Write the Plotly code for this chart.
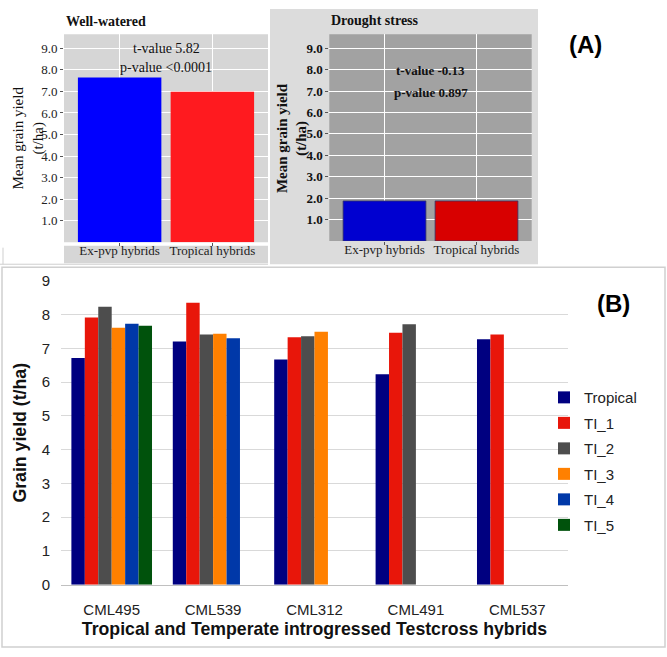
import plotly.graph_objects as go

W, H = 667, 657

def px(x):
    return x / W

def py(y):
    return 1 - y / H

# ---------------- Data ----------------
a_categories = ["Ex-pvp hybrids", "Tropical hybrids"]
ww_yield = [7.65, 6.98]
ds_yield = [1.87, 1.87]
ww_stats = ["t-value 5.82", "p-value <0.0001"]
ds_stats = ["t-value -0.13", "p-value 0.897"]
a_ticks = [1, 2, 3, 4, 5, 6, 7, 8, 9]

b_categories = ["CML495", "CML539", "CML312", "CML491", "CML537"]
tropical = [6.71, 7.20, 6.67, 6.23, 7.27]
ti_1 = [7.91, 8.35, 7.33, 7.46, 7.41]
ti_2 = [8.23, 7.41, 7.36, 7.71, None]
ti_3 = [7.61, 7.43, 7.49, None, None]
ti_4 = [7.73, 7.30, None, None, None]
ti_5 = [7.67, None, None, None, None]
b_series = ["Tropical", "TI_1", "TI_2", "TI_3", "TI_4", "TI_5"]
b_values = [tropical, ti_1, ti_2, ti_3, ti_4, ti_5]
b_colors = ["#000080", "#e8160a", "#4d4d4d", "#ff8000", "#0038a8", "#00520c"]

serif = "Liberation Serif"
sans = "Liberation Sans"

fig = go.Figure()

# Panel A - Well-watered
fig.add_trace(go.Bar(x=a_categories, y=ww_yield, width=0.9,
                     marker=dict(color=["#0000ff", "#ff1a1f"], line=dict(width=0)),
                     showlegend=False, xaxis="x", yaxis="y"))
# Panel A - Drought stress
fig.add_trace(go.Bar(x=a_categories, y=ds_yield, width=0.9,
                     marker=dict(color=["#0000d0", "#d80000"],
                                 line=dict(width=0.8, color="#333366")),
                     showlegend=False, xaxis="x2", yaxis="y2"))

# Panel B
for name, vals, col in zip(b_series, b_values, b_colors):
    fig.add_trace(go.Bar(x=b_categories, y=vals, name=name,
                         marker=dict(color=col, line=dict(width=0)),
                         legendgroup=name, xaxis="x3", yaxis="y3"))

a_tickfont = dict(family=serif, size=13, color="#222222")
a_tickfont_b = dict(family=serif, size=13, color="#111111", weight="bold")

def ax_a(font):
    return dict(type="category", range=[-0.6, 1.6], showgrid=True,
                gridcolor="#ffffff", gridwidth=1, ticks="outside", ticklen=3,
                tickcolor="#555555", tickfont=a_tickfont, showline=False,
                zeroline=False, fixedrange=True, ticklabelstandoff=-7)

def ay_a(font):
    return dict(range=[0, 9.65], tickvals=a_ticks, tickformat=".1f",
                showgrid=True, gridcolor="#ffffff", gridwidth=1,
                ticks="outside", ticklen=3, tickcolor="#555555",
                tickfont=font, zeroline=False, showline=False)

fig.update_layout(
    width=W, height=H,
    margin=dict(l=0, r=0, t=0, b=0),
    paper_bgcolor="#ffffff",
    plot_bgcolor="#ffffff",
    barmode="group", bargap=0.205, bargroupgap=0,
    xaxis=dict(domain=[px(64), px(268)], anchor="y", **ax_a(a_tickfont)),
    yaxis=dict(domain=[py(239.4), py(26)], anchor="x", **ay_a(a_tickfont)),
    xaxis2=dict(domain=[px(329.3), px(531.7)], anchor="y2", **ax_a(a_tickfont)),
    yaxis2=dict(domain=[py(238.2), py(26)], anchor="x2", **ay_a(a_tickfont_b)),
    xaxis3=dict(domain=[px(61), px(568)], anchor="y3", type="category",
                range=[-0.5, 4.5], showgrid=False, ticks="", showline=True,
                linecolor="#c0c0c0", linewidth=1, ticklabelstandoff=11,
                tickfont=dict(family=sans, size=15, color="#222222"),
                title=dict(text="<b>Tropical and Temperate introgressed Testcross hybrids</b>",
                           font=dict(family=sans, size=17.7, color="#111111"), standoff=5)),
    yaxis3=dict(domain=[py(591), py(279)], anchor="x3", range=[0, 9], dtick=1,
                showgrid=True, gridcolor="#d9d9d9", gridwidth=1, zeroline=False,
                showline=False, ticks="", ticklabelstandoff=10,
                tickfont=dict(family=sans, size=15, color="#222222"),
                title=dict(text="<b>Grain yield (t/ha)</b>",
                           font=dict(family=sans, size=17.7, color="#111111"), standoff=10)),
    legend=dict(x=px(544), y=py(382), xanchor="left", yanchor="top",
                font=dict(family=sans, size=15, color="#222222"),
                bgcolor="rgba(0,0,0,0)", tracegroupgap=3, itemwidth=30),
)

shapes = [
    # Drought panel background
    dict(type="rect", xref="paper", yref="paper", x0=px(270), x1=px(538),
         y0=py(262), y1=py(0), fillcolor="#dcdcdc", line=dict(width=0), layer="below"),
    # Well-watered plot area background
    dict(type="rect", xref="x domain", yref="y domain", x0=0, x1=1, y0=0, y1=1,
         fillcolor="#d6d6d6", line=dict(width=0), layer="below"),
    # Drought plot area darker background
    dict(type="rect", xref="x2 domain", yref="y2 domain", x0=0, x1=1, y0=0, y1=1,
         fillcolor="#a2a2a2", line=dict(width=0), layer="below"),
    # Well-watered tick label strip
    dict(type="rect", xref="paper", yref="paper", x0=px(64), x1=px(268),
         y0=py(261), y1=py(243), fillcolor="#d6d6d6", line=dict(width=0), layer="below"),
    # Bottom line of panel A
    dict(type="line", xref="paper", yref="paper", x0=px(0), x1=px(268),
         y0=py(262), y1=py(262), line=dict(color="#cfcfcf", width=1)),
    dict(type="line", xref="paper", yref="paper", x0=px(3), x1=px(3),
         y0=py(262), y1=py(245), line=dict(color="#cfcfcf", width=1)),
    # Panel B frame
    dict(type="rect", xref="paper", yref="paper", x0=px(2), x1=px(665),
         y0=py(655), y1=py(265), fillcolor="rgba(0,0,0,0)",
         line=dict(color="#d0d0d0", width=1.5)),
]
fig.update_layout(shapes=shapes)

annotations = [
    dict(text="<b>Well-watered</b>", xref="paper", yref="paper", x=px(64), y=py(13),
         xanchor="left", yanchor="middle", showarrow=False,
         font=dict(family=serif, size=14, color="#111111")),
    dict(text="<b>Drought stress</b>", xref="paper", yref="paper", x=px(329), y=py(12),
         xanchor="left", yanchor="middle", showarrow=False,
         font=dict(family=serif, size=14, color="#111111")),
    dict(text="Mean grain yield<br>(t/ha)", xref="paper", yref="paper", x=px(29),
         y=py(133), xanchor="center", yanchor="middle", textangle=-90,
         showarrow=False, font=dict(family=serif, size=15, color="#111111")),
    dict(text="<b>Mean grain yield<br>(t/ha)</b>", xref="paper", yref="paper", x=px(292.5),
         y=py(133), xanchor="center", yanchor="middle", textangle=-90,
         showarrow=False, font=dict(family=serif, size=15, color="#111111")),
    dict(text="<b>(A)</b>", xref="paper", yref="paper", x=px(585.5), y=py(36),
         xanchor="center", yanchor="middle", showarrow=False,
         font=dict(family=sans, size=24, color="#000000")),
    dict(text="<b>(B)</b>", xref="paper", yref="paper", x=px(613), y=py(302),
         xanchor="center", yanchor="middle", showarrow=False,
         font=dict(family=sans, size=24, color="#000000")),
    dict(text=ww_stats[0], xref="x", yref="y", x=0.5, y=9.0, showarrow=False,
         font=dict(family=serif, size=14, color="#111111")),
    dict(text=ww_stats[1], xref="x", yref="y", x=0.5, y=8.1, showarrow=False,
         font=dict(family=serif, size=14, color="#111111")),
    dict(text="<b>" + ds_stats[0] + "</b>", xref="x2", yref="y2", x=0.5, y=7.97,
         showarrow=False, font=dict(family=serif, size=13, color="#111111")),
    dict(text="<b>" + ds_stats[1] + "</b>", xref="x2", yref="y2", x=0.5, y=6.95,
         showarrow=False, font=dict(family=serif, size=13, color="#111111")),
]
fig.update_layout(annotations=annotations)

fig.write_html("out.html")
